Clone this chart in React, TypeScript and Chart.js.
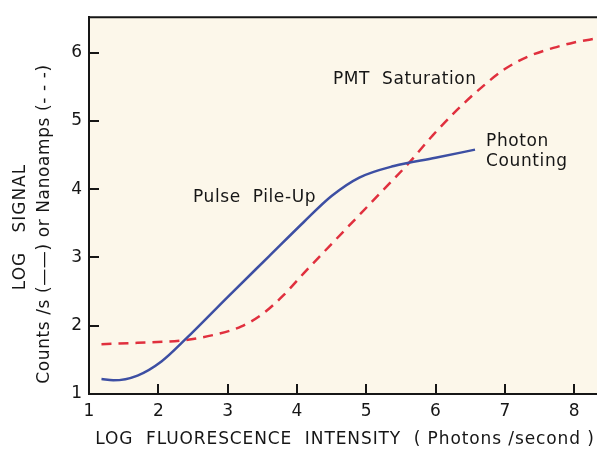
import React, { useEffect, useRef } from "react";
import { Chart, registerables } from "chart.js";
Chart.register(...registerables);

// ---- data ----
const xTicks = [1, 2, 3, 4, 5, 6, 7, 8];
const yTicks = [1, 2, 3, 4, 5, 6];

const photonX = [1.18, 1.35, 1.7, 2.05, 2.4, 3.0, 3.6, 4.1, 4.5, 4.9, 5.4, 6.0, 6.57];
const photonY = [1.22, 1.2, 1.27, 1.48, 1.81, 2.42, 3.02, 3.52, 3.9, 4.17, 4.34, 4.46, 4.58];

const pmtX = [1.18, 1.7, 2.39, 2.86, 3.2, 3.5, 3.8, 4.1, 4.7, 5.2, 5.63, 5.96, 6.3, 6.64, 7.0, 7.35, 7.7, 8.0, 8.33];
const pmtY = [1.73, 1.75, 1.79, 1.88, 1.99, 2.17, 2.44, 2.77, 3.41, 3.94, 4.4, 4.79, 5.15, 5.47, 5.76, 5.95, 6.07, 6.15, 6.21];

const noteTexts = ["PMT  Saturation", "Pulse  Pile-Up", "Photon", "Counting"];
const noteX = [4.52, 2.5, 6.73, 6.73];
const noteY = [5.61, 3.88, 4.7, 4.41];

const xTitle = "LOG  FLUORESCENCE  INTENSITY  ( Photons /second )";
const yTitle1 = "LOG   SIGNAL";
const yTitle2 = "Counts /s (\u2014\u2014) or Nanoamps (- - -)";

const INK = "#161616";
const BG = "#fcf7ea";
const BLUE = "#3d4fa3";
const RED = "#e0303e";
const FONT = '"DejaVu Sans", sans-serif';

const decor = {
  id: "decor",
  beforeDraw(chart: any) {
    const { ctx, chartArea: a } = chart;
    ctx.save();
    ctx.fillStyle = "#ffffff";
    ctx.fillRect(0, 0, chart.width, chart.height);
    ctx.fillStyle = BG;
    ctx.fillRect(a.left, a.top, a.right - a.left, a.bottom - a.top);
    ctx.restore();
  },
  afterDraw(chart: any) {
    const { ctx, chartArea: a } = chart;
    const x = chart.scales.x;
    const y = chart.scales.y;
    ctx.save();
    ctx.strokeStyle = INK;
    ctx.lineWidth = 2;
    ctx.beginPath();
    ctx.moveTo(a.left - 1, a.top);
    ctx.lineTo(a.right, a.top);
    ctx.stroke();
    ctx.beginPath();
    xTicks.forEach((v) => {
      const px = Math.round(x.getPixelForValue(v));
      ctx.moveTo(px, a.bottom);
      ctx.lineTo(px, a.bottom - 10);
    });
    yTicks.forEach((v) => {
      const py = Math.round(y.getPixelForValue(v));
      ctx.moveTo(a.left, py);
      ctx.lineTo(a.left + 10, py);
    });
    ctx.stroke();

    ctx.fillStyle = INK;
    ctx.font = "17px " + FONT;
    ctx.textBaseline = "middle";
    ctx.textAlign = "left";
    (ctx as any).letterSpacing = "0.6px";
    noteTexts.forEach((t, i) => {
      ctx.fillText(t, x.getPixelForValue(noteX[i]), y.getPixelForValue(noteY[i]));
    });

    // x title
    (ctx as any).letterSpacing = "0.9px";
    ctx.textAlign = "center";
    ctx.fillText(xTitle, (a.left + a.right) / 2 + 2, 440);

    // y titles
    ctx.save();
    ctx.translate(21, 227);
    ctx.rotate(-Math.PI / 2);
    (ctx as any).letterSpacing = "1px";
    ctx.fillText(yTitle1, 0, 0);
    ctx.restore();
    ctx.save();
    ctx.translate(45, 224);
    ctx.rotate(-Math.PI / 2);
    (ctx as any).letterSpacing = "0.6px";
    ctx.fillText(yTitle2, 0, 0);
    ctx.restore();

    ctx.restore();
  },
};

export default function App() {
  const ref = useRef<HTMLCanvasElement>(null);
  useEffect(() => {
    const canvas = ref.current;
    if (!canvas) return;
    const chart = new Chart(canvas, {
      type: "line",
      data: {
        datasets: [
          {
            label: "Photon Counting",
            data: photonX.map((v, i) => ({ x: v, y: photonY[i] })),
            borderColor: BLUE,
            borderWidth: 2.5,
            pointRadius: 0,
            cubicInterpolationMode: "monotone",
            fill: false,
          },
          {
            label: "PMT Saturation",
            data: pmtX.map((v, i) => ({ x: v, y: pmtY[i] })),
            borderColor: RED,
            borderWidth: 2.5,
            borderDash: [10, 7],
            pointRadius: 0,
            cubicInterpolationMode: "monotone",
            fill: false,
          },
        ],
      },
      options: {
        responsive: false,
        animation: false,
        layout: { padding: { top: 14, right: 0, left: 0, bottom: 0 } },
        plugins: { legend: { display: false }, tooltip: { enabled: false } },
        scales: {
          x: {
            type: "linear",
            min: 1,
            max: 8.33,
            afterBuildTicks: (s: any) => {
              s.ticks = xTicks.map((v) => ({ value: v }));
            },
            afterFit: (s: any) => {
              s.height = 57;
            },
            grid: { display: false, drawTicks: false },
            border: { display: true, color: INK, width: 2 },
            ticks: {
              color: INK,
              font: { family: FONT, size: 17 },
              padding: 7,
              maxRotation: 0,
              autoSkip: false,
            },
          },
          y: {
            type: "linear",
            min: 1,
            max: 6.52,
            afterBuildTicks: (s: any) => {
              s.ticks = yTicks.map((v) => ({ value: v }));
            },
            afterFit: (s: any) => {
              s.width = 89;
            },
            grid: { display: false, drawTicks: false },
            border: { display: true, color: INK, width: 2 },
            ticks: {
              color: INK,
              font: { family: FONT, size: 17 },
              padding: 7,
              autoSkip: false,
            },
          },
        },
      },
      plugins: [decor],
    });
    return () => chart.destroy();
  }, []);
  return (
    <div style={{ position: "fixed", left: 0, top: 0, width: 597, height: 451, background: "#fff" }}>
      <canvas ref={ref} width={597} height={451} />
    </div>
  );
}
